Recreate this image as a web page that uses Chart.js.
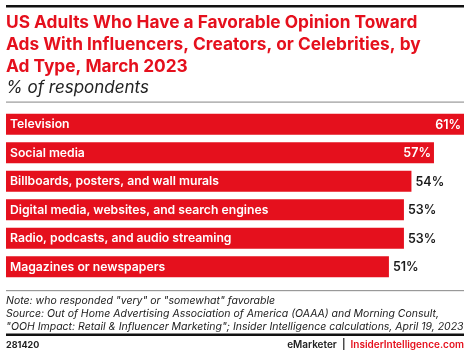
<!DOCTYPE html>
<html><head><meta charset="utf-8">
<script src="https://cdn.jsdelivr.net/npm/chart.js@4"></script>
<style>html,body{margin:0;padding:0;background:#fff}#c{display:block}</style>
</head><body>
<div style="position:relative;width:470px;height:355px"><canvas id="c" width="470" height="355"></canvas></div>
<script>
const categories = ["Television","Social media","Billboards, posters, and wall murals","Digital media, websites, and search engines","Radio, podcasts, and audio streaming","Magazines or newspapers"];
const values = [61,57,54,53,53,51];
const valueLabels = ["61%","57%","54%","53%","53%","51%"];
const titleLines = ["US Adults Who Have a Favorable Opinion Toward","Ads With Influencers, Creators, or Celebrities, by","Ad Type, March 2023"];
const subtitle = "% of respondents";
const notes = ["Note: who responded \"very\" or \"somewhat\" favorable","Source: Out of Home Advertising Association of America (OAAA) and Morning Consult,","\"OOH Impact: Retail & Influencer Marketing\"; Insider Intelligence calculations, April 19, 2023"];
const RED = "#e5101d";
const FONT = "Inter, 'Liberation Sans', Arial, sans-serif";

const decor = {
  id:'decor',
  afterDatasetsDraw(chart){
    const ctx = chart.ctx;
    const meta = chart.getDatasetMeta(0);
    ctx.save();
    ctx.textBaseline='middle';
    meta.data.forEach((bar,i)=>{
      ctx.font = "600 12.2px "+FONT;
      ctx.fillStyle="#fff";
      ctx.textAlign='left';
      ctx.fillText(categories[i], 10, bar.y+0.5);
      const inside = i<2;
      ctx.font = "600 12.5px "+FONT;
      if(inside){ctx.fillStyle="#fff";ctx.textAlign='right';ctx.fillText(valueLabels[i], bar.x-3, bar.y+0.5);}
      else {ctx.fillStyle="#1a1a1a";ctx.textAlign='left';ctx.fillText(valueLabels[i], bar.x+4, bar.y+0.5);}
    });
    ctx.restore();
  },
  afterDraw(chart){
    const ctx = chart.ctx;
    ctx.save();
    ctx.fillStyle="#111"; ctx.fillRect(6,5,458,2.5);
    ctx.fillStyle=RED; ctx.textBaseline='alphabetic'; ctx.textAlign='left';
    ctx.font="bold 17.3px "+FONT;
    titleLines.forEach((t,i)=>ctx.fillText(t,6,28+i*22));
    ctx.fillStyle="#222"; ctx.font="italic 17px "+FONT;
    ctx.fillText(subtitle,6,93);
    ctx.fillStyle="#999"; ctx.fillRect(6,101.5,458,1.2);
    ctx.fillRect(6,290,458,1.2);
    ctx.fillStyle="#222"; ctx.font="italic 10.5px "+FONT;
    notes.forEach((t,i)=>ctx.fillText(t,6,304+i*13));
    ctx.fillStyle="#111"; ctx.fillRect(6,333.5,458,2.5);
    ctx.font="bold 9px "+FONT; ctx.fillStyle="#222";
    ctx.fillText("281420",6,348);
    ctx.font="600 10px "+FONT;
    ctx.textAlign='right';
    ctx.fillStyle=RED; ctx.fillText("InsiderIntelligence.com",464,348);
    const w1 = ctx.measureText("InsiderIntelligence.com").width;
    ctx.fillStyle="#222"; ctx.fillText("eMarketer  |  ",464-w1,348);
    ctx.restore();
  }
};

new Chart(document.getElementById('c'),{
  type:'bar',
  data:{labels:categories,datasets:[{data:values,backgroundColor:RED,borderWidth:0,barPercentage:0.74,categoryPercentage:1}]},
  options:{
    indexAxis:'y',responsive:false,animation:false,
    layout:{padding:{left:6,right:6,top:110,bottom:74}},
    plugins:{legend:{display:false},tooltip:{enabled:false}},
    scales:{x:{display:false,min:0,max:61},y:{display:false}}
  },
  plugins:[decor]
});
</script>
</body></html>
